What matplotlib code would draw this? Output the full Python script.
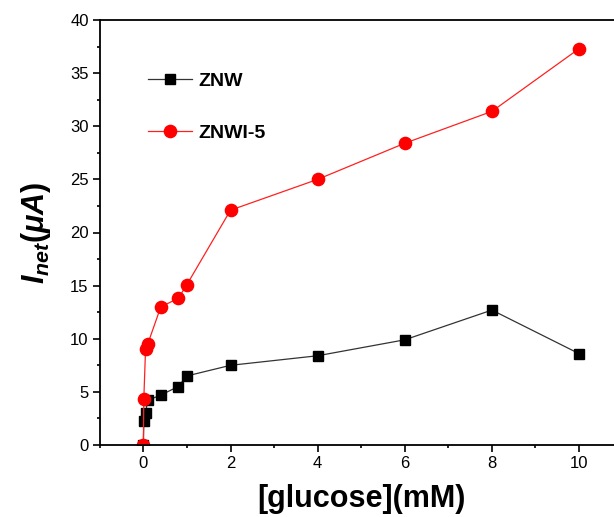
import numpy as np
import matplotlib
matplotlib.use('Agg')
import matplotlib.pyplot as plt
from matplotlib.ticker import MultipleLocator

plt.rcParams['font.family'] = ['Liberation Sans', 'DejaVu Sans']
plt.rcParams['mathtext.fontset'] = 'custom'
plt.rcParams['mathtext.rm'] = 'Liberation Sans:bold'
plt.rcParams['mathtext.it'] = 'Liberation Sans:bold:italic'
plt.rcParams['mathtext.bf'] = 'Liberation Sans:bold'

# datos
conc_znw = [0, 0.01, 0.05, 0.1, 0.4, 0.8, 1, 2, 4, 6, 8, 10]
i_znw = [0, 2.3, 3.0, 4.2, 4.7, 5.5, 6.5, 7.5, 8.4, 9.9, 12.7, 8.6]
conc_znwi = [0, 0.01, 0.05, 0.1, 0.4, 0.8, 1, 2, 4, 6, 8, 10]
i_znwi = [0, 4.3, 9.0, 9.5, 13.0, 13.8, 15.1, 22.1, 25.0, 28.4, 31.4, 37.3]

W, H = 614, 517
fig = plt.figure(figsize=(W / 100, H / 100), dpi=100)
# el eje derecho queda fuera de la imagen, como en el original
ax = fig.add_axes([99.8 / W, 1 - 445 / H, (622.6 - 99.8) / W, 425 / H])

ax.plot(conc_znw, i_znw, color='#333333', lw=0.9, marker='s', ms=7.5,
        mfc='black', mec='black', label='ZNW')
ax.plot(conc_znwi, i_znwi, color='#ff2020', lw=0.9, marker='o', ms=8.8,
        mfc='red', mec='red', label='ZNWI-5')

ax.set_xlim(-1, 11)
ax.set_ylim(0, 40)
ax.xaxis.set_major_locator(MultipleLocator(2))
ax.xaxis.set_minor_locator(MultipleLocator(1))
ax.yaxis.set_major_locator(MultipleLocator(5))
ax.yaxis.set_minor_locator(MultipleLocator(2.5))
ax.tick_params(which='both', direction='out', top=False, right=False,
               labelsize=12, width=1.2)
ax.tick_params(which='major', length=5, pad=3)
ax.tick_params(which='minor', length=2.5)
for s in ax.spines.values():
    s.set_linewidth(1.3)

ax.set_xlabel('[glucose](mM)', fontsize=22, fontweight='bold', labelpad=9)
ax.set_ylabel(r'$I_{net}(\mu A)$', fontsize=22, labelpad=12)

leg = ax.legend(loc='upper left', bbox_to_anchor=(148 / W, 1 - 72 / H),
                bbox_transform=fig.transFigure, frameon=False, borderpad=0,
                borderaxespad=0, prop={'weight': 'bold', 'size': 14},
                labelspacing=1.8, handlelength=2.27, handletextpad=0.3)

fig.savefig('out.png', dpi=100)
